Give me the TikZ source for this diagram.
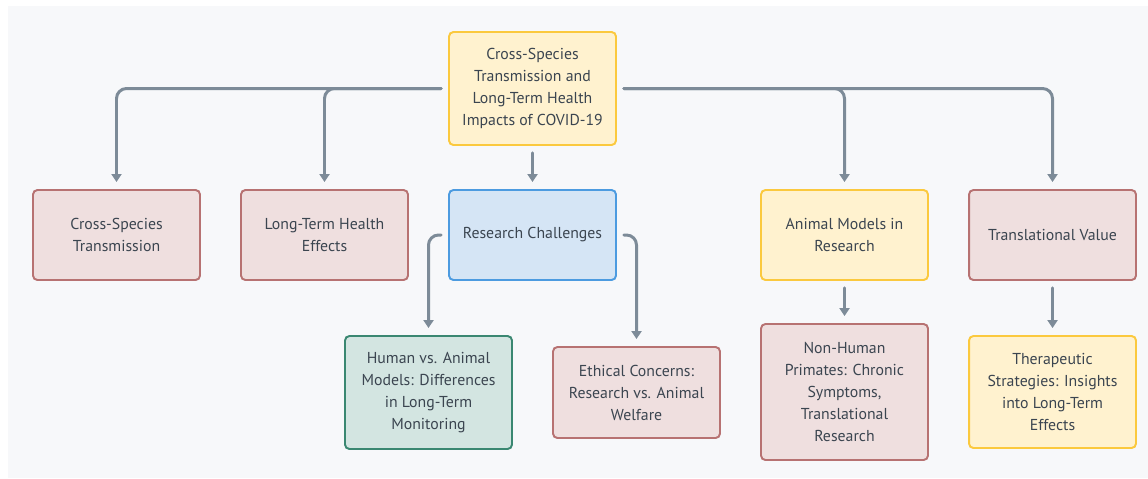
\documentclass[tikz,border=0pt]{standalone}
\usepackage{fontspec}
\setmainfont{PT Sans}
\usepackage{tikz}
\usetikzlibrary{arrows.meta}
\definecolor{bgcol}{HTML}{F7F8FA}
\definecolor{txtcol}{HTML}{3B4550}
\definecolor{linecol}{HTML}{7D8B98}
\definecolor{yellowfill}{HTML}{FFF2CF}
\definecolor{yellowline}{HTML}{FBC93E}
\definecolor{redfill}{HTML}{EFDFDF}
\definecolor{redline}{HTML}{B77272}
\definecolor{bluefill}{HTML}{D5E5F5}
\definecolor{blueline}{HTML}{4C9BE0}
\definecolor{greenfill}{HTML}{D3E5E1}
\definecolor{greenline}{HTML}{3A8771}
\begin{document}
\begin{tikzpicture}[x=0.02cm,y=-0.02cm,
box/.style={draw,line width=1.1pt,rounded corners=2.5pt,minimum width=3.34cm,minimum height=1.8cm,align=center,text=txtcol,font=\fontsize{9}{12.5}\selectfont},
yellowbox/.style={box,fill=yellowfill,draw=yellowline},
redbox/.style={box,fill=redfill,draw=redline},
bluebox/.style={box,fill=bluefill,draw=blueline},
greenbox/.style={box,fill=greenfill,draw=greenline},
conn/.style={line width=1.7pt,color=linecol,line cap=round,rounded corners=0.2cm,shorten <=0.14cm,shorten >=0.14cm,-{Triangle[width=0.2cm,length=0.16cm]}}]
\useasboundingbox (0,0) rectangle (1148,478);
\fill[bgcol] (8,6) rectangle (1148,478);
\node[yellowbox,minimum height=2.26cm] (root) at (532.5,88.5) {Cross-Species\\Transmission and\\Long-Term Health\\Impacts of COVID-19};
\node[redbox] (cst) at (116.5,235) {Cross-Species\\Transmission};
\node[redbox] (lth) at (324.5,235) {Long-Term Health\\Effects};
\node[bluebox] (rc) at (532.5,235) {Research Challenges};
\node[yellowbox] (amr) at (844.5,235) {Animal Models in\\Research};
\node[redbox] (tv) at (1052.5,235) {Translational Value};
\node[greenbox,minimum height=2.26cm] (hva) at (428.5,392.5) {Human vs. Animal\\Models: Differences\\in Long-Term\\Monitoring};
\node[redbox,minimum height=1.82cm] (ec) at (636.5,392.5) {Ethical Concerns:\\Research vs. Animal\\Welfare};
\node[redbox,minimum height=2.72cm] (nhp) at (844.5,392) {Non-Human\\Primates: Chronic\\Symptoms,\\Translational\\Research};
\node[yellowbox,minimum height=2.24cm] (ts) at (1052.5,392) {Therapeutic\\Strategies: Insights\\into Long-Term\\Effects};
\draw[conn] (root.west) -| (cst.north);
\draw[conn] (root.west) -| (lth.north);
\draw[conn] (root.south) -- (rc.north);
\draw[conn] (root.east) -| (amr.north);
\draw[conn] (root.east) -| (tv.north);
\draw[conn] (rc.west) -| (hva.north);
\draw[conn] (rc.east) -| (ec.north);
\draw[conn] (amr.south) -- (nhp.north);
\draw[conn] (tv.south) -- (ts.north);
\end{tikzpicture}
\end{document}
